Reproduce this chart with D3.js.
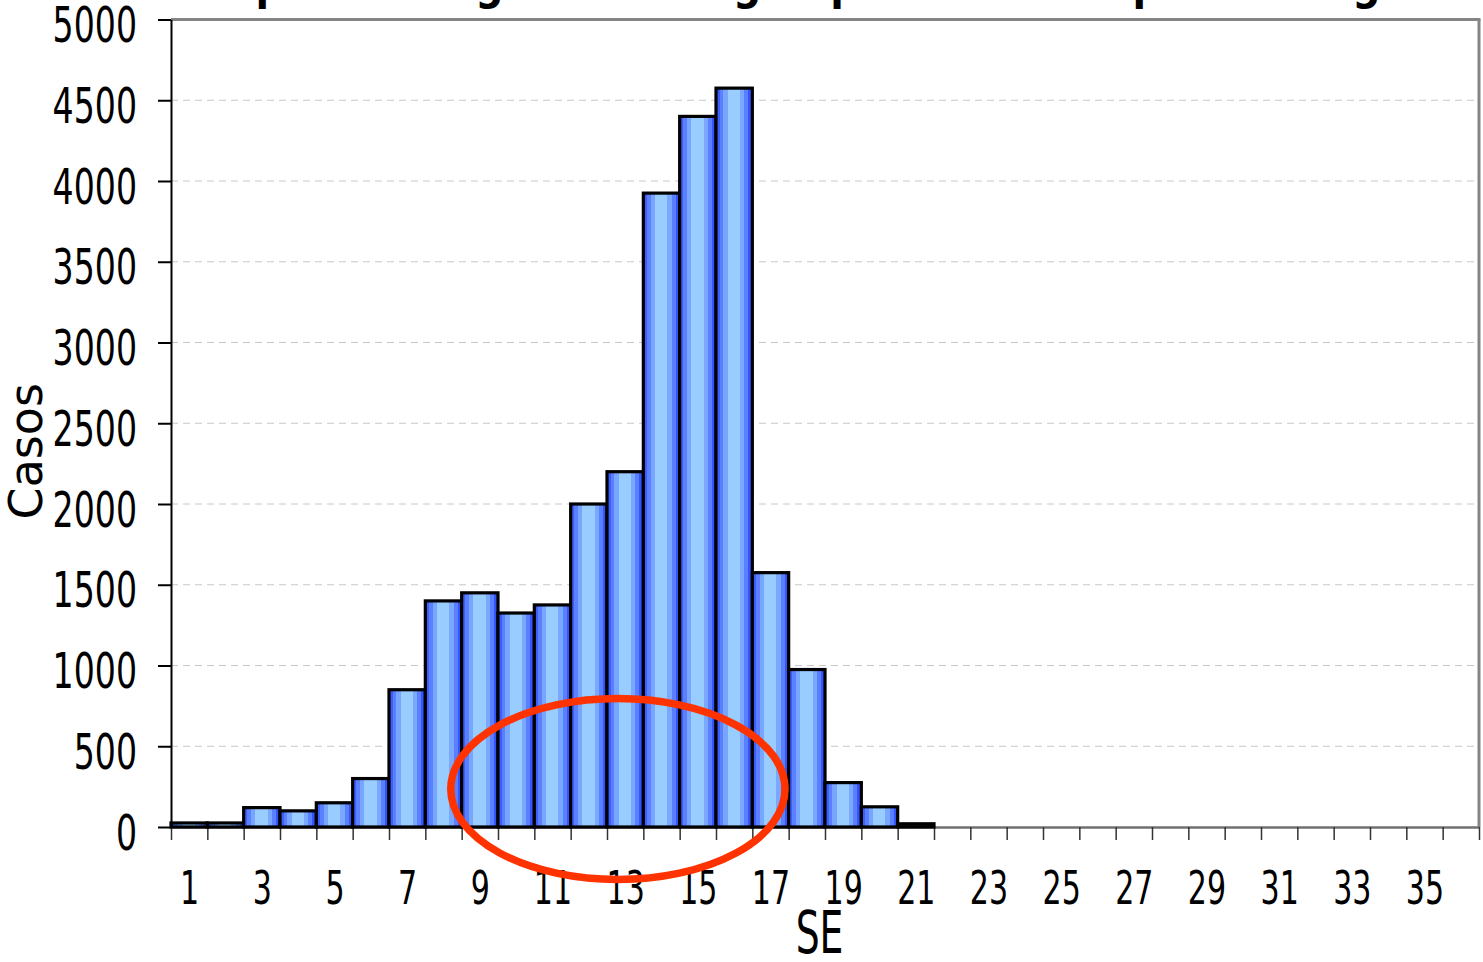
<!DOCTYPE html>
<html>
<head>
<meta charset="utf-8">
<script src="https://cdn.jsdelivr.net/npm/d3@7"></script>
<style>
  html, body { margin: 0; padding: 0; background: #ffffff; }
  svg { display: block; }
  text { font-family: "DejaVu Sans", sans-serif; fill: #000; }
</style>
</head>
<body>
<svg id="chart" width="1483" height="962"></svg>
<script>
// ---- data ----
const semanas = [1,2,3,4,5,6,7,8,9,10,11,12,13,14,15,16,17,18,19,20,21,22,23,24,25,26,27,28,29,30,31,32,33,34,35,36];
const casos   = [25,25,120,100,150,300,850,1400,1450,1325,1375,2000,2200,3925,4400,4575,1575,975,275,125,20,0,0,0,0,0,0,0,0,0,0,0,0,0,0,0];
const yTicks  = [0,500,1000,1500,2000,2500,3000,3500,4000,4500,5000];
const xTickLabels = ["1","3","5","7","9","11","13","15","17","19","21","23","25","27","29","31","33","35"];
const titulo = "Curva epidemiológica de dengue por semana epidemiológica";
const yLabel = "Casos";
const xLabel = "SE";
// annotation ellipse (in data units: SE position, casos)
const elipse = { cx: 12.3, cy: 235, rx: 4.6, ry: 560 };

// ---- layout ----
const L = 171, R = 1479, T = 19.5, B = 827;
const svg = d3.select("#chart");

const x = d3.scaleLinear().domain([0, semanas.length]).range([L, R]);
const y = d3.scaleLinear().domain([0, 5000]).range([B, T]);

// gradient
const defs = svg.append("defs");
const grad = defs.append("linearGradient").attr("id", "barGrad")
  .attr("x1", "0%").attr("x2", "100%").attr("y1", "0%").attr("y2", "0%");
const steps = [
  [0.00, "#3d5eff"], [0.10, "#3d5eff"],
  [0.10, "#5a80ff"], [0.20, "#5a80ff"],
  [0.20, "#78a6ff"], [0.32, "#78a6ff"],
  [0.32, "#99ccff"], [0.66, "#99ccff"],
  [0.66, "#7aa8ff"], [0.78, "#7aa8ff"],
  [0.78, "#5a80ff"], [0.89, "#5a80ff"],
  [0.89, "#3355ff"], [1.00, "#3355ff"]
];
steps.forEach(s => grad.append("stop").attr("offset", s[0]).attr("stop-color", s[1]));

// title (clipped at the top as in the reference)
svg.append("text")
  .attr("transform", `translate(${x(18) - 60},-1) scale(0.86,1)`)
  .attr("text-anchor", "middle")
  .attr("font-size", 46)
  .attr("font-weight", "bold")
  .text(titulo);

// gridlines
svg.append("g")
  .selectAll("line")
  .data(yTicks.filter(d => d > 0 && d < 5000))
  .join("line")
  .attr("x1", L).attr("x2", R)
  .attr("y1", d => y(d)).attr("y2", d => y(d))
  .attr("stroke", "#c8c8c8").attr("stroke-width", 1)
  .attr("stroke-dasharray", "7,5");

// top & right frame
svg.append("line").attr("x1", L).attr("x2", R + 1.5).attr("y1", y(5000)).attr("y2", y(5000))
  .attr("stroke", "#858585").attr("stroke-width", 3);
svg.append("line").attr("x1", R).attr("x2", R).attr("y1", y(5000)).attr("y2", B)
  .attr("stroke", "#858585").attr("stroke-width", 3);

// x axis: ticks at category boundaries
const xAxisTicks = d3.axisBottom(x)
  .tickValues(d3.range(0, semanas.length + 1))
  .tickSize(13).tickSizeOuter(0).tickFormat("");
const gx = svg.append("g").attr("transform", `translate(0,${B})`).call(xAxisTicks);
gx.select(".domain").attr("stroke", "#707070").attr("stroke-width", 2.5);
gx.selectAll(".tick line").attr("stroke", "#333").attr("stroke-width", 1.5);

// x labels at odd category centres
const labelPos = xTickLabels.map(s => +s - 0.5);
const xAxisLabels = d3.axisBottom(x)
  .tickValues(labelPos).tickSize(0)
  .tickFormat((d, i) => xTickLabels[i]);
const gxl = svg.append("g").attr("transform", `translate(0,${B})`).call(xAxisLabels);
gxl.select(".domain").remove();
gxl.selectAll(".tick text")
  .attr("font-family", "DejaVu Sans").attr("font-size", 47).attr("fill", "#000")
  .attr("y", 0).attr("dy", 0)
  .attr("transform", "translate(0,77) scale(0.64,1)");

// bars
svg.append("g")
  .selectAll("rect")
  .data(semanas.map((s, i) => ({ s, v: casos[i] })).filter(d => d.v > 0))
  .join("rect")
  .attr("x", d => x(d.s - 1))
  .attr("width", d => x(d.s) - x(d.s - 1))
  .attr("y", d => y(d.v))
  .attr("height", d => B - y(d.v))
  .attr("fill", "url(#barGrad)")
  .attr("stroke", "#000").attr("stroke-width", 3.2)
  .attr("stroke-linejoin", "miter");

// y axis
const yAxis = d3.axisLeft(y).tickValues(yTicks).tickSize(13).tickSizeOuter(0).tickFormat(d3.format("d"));
const gy = svg.append("g").attr("transform", `translate(${L},0)`).call(yAxis);
gy.select(".domain").attr("stroke", "#000").attr("stroke-width", 2);
gy.selectAll(".tick line").attr("stroke", "#000").attr("stroke-width", 2);
gy.selectAll(".tick text")
  .attr("font-family", "DejaVu Sans").attr("font-size", 49.5).attr("fill", "#000")
  .attr("x", 0).attr("dy", 0).attr("y", 0)
  .attr("text-anchor", "end")
  .attr("transform", "translate(-34,22) scale(0.67,1)");

// axis titles
svg.append("text")
  .attr("transform", `translate(42,${(T + B) / 2 + 28}) rotate(-90)`)
  .attr("text-anchor", "middle")
  .attr("font-size", 46)
  .text(yLabel);
svg.append("text")
  .attr("transform", `translate(${x(17.85)},953) scale(0.64,1)`)
  .attr("text-anchor", "middle")
  .attr("font-size", 59)
  .text(xLabel);

// annotation ellipse
svg.append("ellipse")
  .attr("cx", x(elipse.cx))
  .attr("cy", y(elipse.cy))
  .attr("rx", x(elipse.rx) - x(0))
  .attr("ry", y(0) - y(elipse.ry))
  .attr("fill", "none")
  .attr("stroke", "#ff3300")
  .attr("stroke-width", 7.5);
</script>
</body>
</html>
